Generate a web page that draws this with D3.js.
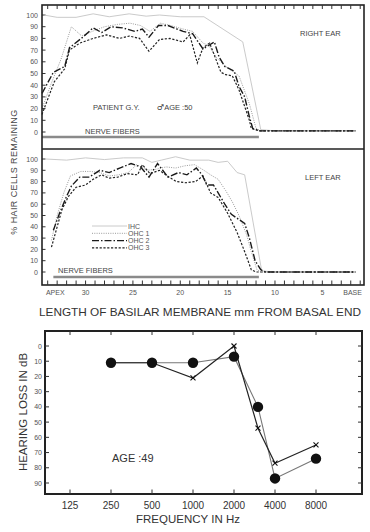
<!DOCTYPE html>
<html>
<head>
<meta charset="UTF-8">
<title>Hair cells remaining and audiogram</title>
<style>
    body { margin: 0; padding: 0; background: #fff; }
    svg { display: block; font-family: "Liberation Sans", Arial, sans-serif; }
    .frame { fill: none; stroke: #222; stroke-width: 1.6px; }
    .tick { stroke: #333; stroke-width: 1px; }
    .small { font-size: 7px; fill: #555; }
    .note { font-size: 7.5px; fill: #444; }
    .title { font-size: 11.8px; fill: #333; }
</style>
</head>
<body>
<svg></svg>
<script src="https://d3js.org/d3.v7.min.js"></script>
<script>

let w = 370, h = 532;

// hair cell counts: [mm from basal end, % remaining]
let ihcRight  = [[34.4,100],[33,98],[31,98],[29.2,101],[27.5,98.5],[25.4,101],[23.6,99],[22.2,100],[20,98.5],[17.5,98.5],[13.4,77],[11.5,2],[10,1],[7,1],[4,1],[1.5,1]];
let ohc1Right = [[34.5,22],[33.6,42],[32.6,62],[31.5,90],[30.4,82],[29.3,86],[28,90],[26.6,92],[25.3,93],[24.2,91],[23.2,86],[22.1,93],[21,91],[19.7,88],[18.7,86],[17.6,76],[17,74],[16.2,64],[15.2,56],[13.8,48],[12.7,24],[12,3],[11.5,1],[9,1],[6,1],[3,1],[1.5,1]];
let ohc2Right = [[34.6,33],[33.4,51],[32.2,56],[31.7,72],[30.3,81],[29.2,89],[28.3,85],[27.3,90],[26.1,89],[24.8,86],[24,88],[23.3,81],[22.3,91],[21.3,91],[19.7,86],[18.7,84],[17.6,71],[16.4,77],[15.9,64],[15.3,56],[14.3,52],[13.8,39],[13.2,30],[12.7,13],[12.35,3],[11.6,1],[8,1],[5,1],[1.5,1]];
let ohc3Right = [[34.6,15],[34,28],[33.3,43],[32.2,54],[31.7,70],[30.6,76],[29.2,80],[27.8,83],[26.4,80],[25.4,82],[24.3,80],[23.3,69],[22.2,79],[21.1,80],[19.7,77],[19,83],[18.2,59],[17.6,72],[16.9,76],[15.7,51],[15.2,49],[14.5,48],[13.8,36],[12.7,10],[12.5,3],[11.6,1],[7,1],[3,1],[1.5,1]];

let ihcLeft  = [[34.2,100],[32,99],[30,101],[28,99.5],[26,101],[24,101],[23,97],[22,99],[20.5,102],[19,99],[17,99],[16,97],[15,98],[14,88],[13.2,86],[11.4,1],[10,0],[6,0],[1.5,0]];
let ohc1Left = [[33.6,28],[33,50],[32.3,70],[31.6,85],[30.5,89],[29.5,89],[28.5,88],[27.5,85],[26.5,86],[25.5,88],[24.6,95],[23.5,90],[22.5,91],[21.5,93],[20.5,92],[19.5,94],[18.5,95],[17.5,90],[16.8,86],[16,82],[15.2,72],[14.5,62],[13.8,50],[13,33],[12.5,18],[11.9,2],[11.5,0],[8,0],[4,0],[1.5,0]];
let ohc2Left = [[33.4,37],[32.7,53],[32,67],[31.5,76],[30.6,84],[29.6,84],[28.5,90],[27.5,88],[26.4,92],[25.2,96],[24.2,93],[23.3,84],[22.4,96],[21.3,84],[20.2,88],[19.3,86],[18.3,92],[17.7,86],[17.2,77],[16.5,77],[16,70],[15.3,60],[14.6,51],[13.2,43],[12.7,30],[12.1,10],[11.5,2],[11,0],[7,0],[3,0],[1.5,0]];
let ohc3Left = [[33.6,22],[33,40],[32.5,55],[31.8,67],[31,75],[30,77],[29.2,82],[28.3,86],[27.5,83],[26.6,84],[25.6,87],[24.5,86],[24,95],[23.2,87],[22.2,90],[21.2,84],[20.4,80],[19.4,79],[18.4,80],[17.6,85],[16.8,70],[16,66],[15,52],[14,35],[13.2,18],[12.5,2],[12,0],[9,0],[5,0],[1.5,0]];

let nerveRight = [[34.6,-4.3],[11.7,-4.3]];
let nerveLeft  = [[33.4,-4.4],[11.7,-4.4]];

let mmTicks = [33.2, 30, 25, 20, 15, 10, 5, 1.8];
let mmTickLabels = ["APEX", "30", "25", "20", "15", "10", "5", "BASE"];
let pctTicks = [0, 10, 20, 30, 40, 50, 60, 70, 80, 90, 100];

let cellTypes = ["IHC", "OHC 1", "OHC 2", "OHC 3"];

// audiogram
let freqs = [125, 250, 500, 1000, 2000, 4000, 8000];
let dbTicks = [0, 10, 20, 30, 40, 50, 60, 70, 80, 90];
let lossDots  = [[250,11],[500,11],[1000,11],[2000,7],[3000,40],[4000,87],[8000,74]];
let lossCross = [[250,11],[500,11],[1000,21],[2000,0],[3000,54],[4000,77],[8000,65]];

// line styles per cell type
let styles = {
    "IHC":   { stroke: "#c4c4c4", width: 0.9, dash: null },
    "OHC 1": { stroke: "#9a9a9a", width: 1.0, dash: "1,1.3" },
    "OHC 2": { stroke: "#1a1a1a", width: 1.4, dash: "7,2,1.5,2" },
    "OHC 3": { stroke: "#222",    width: 1.2, dash: "2.2,1.6" }
};

let svg = d3.select("svg")
    .attr("width", w).attr("height", h)
    .attr("viewBox", `0 0 ${w} ${h}`);

let x = d3.scaleLinear().domain([34.6, 0.6]).range([42, 364]);

function drawPanel(y, series, nerve, nerveLabelX) {
    let g = svg.append("g");
    let line = d3.line().x(d => x(d[0])).y(d => y(d[1]));

    // y ticks and labels
    g.selectAll("line.yt").data(pctTicks).enter().append("line")
        .attr("class", "tick")
        .attr("x1", 42).attr("x2", 45.5)
        .attr("y1", d => y(d)).attr("y2", d => y(d));
    g.selectAll("text.yl").data(pctTicks).enter().append("text")
        .attr("class", "small")
        .attr("x", 38).attr("y", d => y(d) + 2.5)
        .attr("text-anchor", "end")
        .text(d => d);

    // nerve fibers
    g.append("path").datum(nerve)
        .attr("d", line)
        .attr("stroke", "#8a8a8a").attr("stroke-width", 2.4).attr("fill", "none");
    g.append("text").attr("class", "note")
        .attr("x", nerveLabelX).attr("y", y(nerve[0][1]) - 3.5)
        .text("NERVE FIBERS");

    // cell curves
    series.forEach((s, i) => {
        let st = styles[cellTypes[i]];
        g.append("path").datum(s)
            .attr("d", line)
            .attr("fill", "none")
            .attr("stroke", st.stroke)
            .attr("stroke-width", st.width)
            .attr("stroke-dasharray", st.dash);
    });
    return g;
}

let yRight = d3.scaleLinear().domain([0, 100]).range([132, 15]);
let yLeft  = d3.scaleLinear().domain([0, 100]).range([272, 159]);

drawPanel(yRight, [ihcRight, ohc1Right, ohc2Right, ohc3Right], nerveRight, 85);
drawPanel(yLeft, [ihcLeft, ohc1Left, ohc2Left, ohc3Left], nerveLeft, 58);

// frames
svg.append("rect").attr("class", "frame")
    .attr("x", 42).attr("y", 5).attr("width", 322).attr("height", 280);
svg.append("line").attr("class", "frame")
    .attr("x1", 42).attr("x2", 364).attr("y1", 149).attr("y2", 149);

// mm ticks along top and bottom edges
let mmMinor = d3.range(1, 35);
svg.selectAll("line.topt").data(mmMinor).enter().append("line")
    .attr("class", "tick")
    .attr("x1", d => x(d)).attr("x2", d => x(d))
    .attr("y1", 5).attr("y2", 9);
svg.selectAll("line.bott").data(mmMinor).enter().append("line")
    .attr("class", "tick")
    .attr("x1", d => x(d)).attr("x2", d => x(d))
    .attr("y1", 285).attr("y2", 280.5);
svg.selectAll("text.xl").data(mmTicks).enter().append("text")
    .attr("class", "small")
    .attr("x", d => x(d)).attr("y", 295)
    .attr("text-anchor", "middle")
    .text((d, i) => mmTickLabels[i]);

// panel labels
svg.append("text").attr("class", "note").attr("x", 300).attr("y", 36).text("RIGHT EAR");
svg.append("text").attr("class", "note").attr("x", 305).attr("y", 180).text("LEFT EAR");
svg.append("text").attr("class", "note").attr("x", 93).attr("y", 110).text("PATIENT G.Y.");
let age = svg.append("text").attr("class", "note").attr("x", 157).attr("y", 110);
age.append("tspan").style("font-family", "'DejaVu Sans'").style("font-size", "8px").text("♂");
age.append("tspan").text("AGE :50");

// legend
let legend = svg.append("g").attr("transform", "translate(92,226)");
cellTypes.forEach((c, i) => {
    let st = styles[c];
    legend.append("line")
        .attr("x1", 0).attr("x2", 35)
        .attr("y1", i * 7.3).attr("y2", i * 7.3)
        .attr("stroke", st.stroke).attr("stroke-width", st.width)
        .attr("stroke-dasharray", st.dash);
    legend.append("text").attr("class", "small")
        .attr("x", 36).attr("y", i * 7.3 + 2.5)
        .text(c);
});

// axis titles
svg.append("text")
    .attr("transform", "translate(17,172) rotate(-90)")
    .attr("text-anchor", "middle")
    .style("font-size", "9px").style("fill", "#444").style("letter-spacing", "0.4px")
    .text("% HAIR CELLS REMAINING");
svg.append("text").attr("class", "title")
    .attr("x", 200).attr("y", 316)
    .attr("text-anchor", "middle")
    .text("LENGTH OF BASILAR MEMBRANE  mm FROM BASAL END");

// ---- audiogram ----
let fx = d3.scaleLog().base(2).domain([125, 8000]).range([70, 316]);
let dy = d3.scaleLinear().domain([0, 90]).range([346, 483]);

let ag = svg.append("g");
ag.append("rect").attr("class", "frame")
    .attr("x", 45).attr("y", 331).attr("width", 317).attr("height", 163)
    .style("stroke-width", "2px");

ag.selectAll("line.lt").data(dbTicks).enter().append("line")
    .attr("class", "tick")
    .attr("x1", 45).attr("x2", 49)
    .attr("y1", d => dy(d)).attr("y2", d => dy(d));
ag.selectAll("line.rt").data(dbTicks).enter().append("line")
    .attr("class", "tick")
    .attr("x1", 362).attr("x2", 358)
    .attr("y1", d => dy(d)).attr("y2", d => dy(d));
ag.selectAll("text.dl").data(dbTicks).enter().append("text")
    .attr("class", "small")
    .attr("x", 42).attr("y", d => dy(d) + 2.5)
    .attr("text-anchor", "end")
    .text(d => d);

ag.selectAll("line.ft").data(freqs).enter().append("line")
    .attr("class", "tick")
    .attr("x1", d => fx(d)).attr("x2", d => fx(d))
    .attr("y1", 331).attr("y2", 335);
ag.selectAll("line.fb").data(freqs).enter().append("line")
    .attr("class", "tick")
    .attr("x1", d => fx(d)).attr("x2", d => fx(d))
    .attr("y1", 494).attr("y2", 489.5);
ag.selectAll("text.fl").data(freqs).enter().append("text")
    .attr("x", d => fx(d)).attr("y", 509)
    .attr("text-anchor", "middle")
    .style("font-size", "10px").style("fill", "#333")
    .text(d => d);

let aline = d3.line().x(d => fx(d[0])).y(d => dy(d[1]));

ag.append("path").datum(lossDots)
    .attr("d", aline)
    .attr("fill", "none").attr("stroke", "#777").attr("stroke-width", 1.1);
ag.append("path").datum(lossCross)
    .attr("d", aline)
    .attr("fill", "none").attr("stroke", "#222").attr("stroke-width", 1.2);

ag.selectAll("circle").data(lossDots).enter().append("circle")
    .attr("cx", d => fx(d[0])).attr("cy", d => dy(d[1]))
    .attr("r", 5.2).attr("fill", "#111");
ag.selectAll("path.cross").data(lossCross.slice(1)).enter().append("path")
    .attr("class", "cross")
    .attr("transform", d => `translate(${fx(d[0])},${dy(d[1])})`)
    .attr("d", "M-2.5,-2.5L2.5,2.5M-2.5,2.5L2.5,-2.5")
    .attr("stroke", "#111").attr("stroke-width", 1.1);

ag.append("text")
    .attr("x", 112).attr("y", 462)
    .style("font-size", "11px").style("fill", "#333")
    .text("AGE :49");

ag.append("text").attr("class", "title")
    .attr("transform", "translate(27,412) rotate(-90)")
    .attr("text-anchor", "middle")
    .style("font-size", "11.5px")
    .text("HEARING LOSS IN dB");
ag.append("text").attr("class", "title")
    .attr("x", 188).attr("y", 523)
    .attr("text-anchor", "middle")
    .style("font-size", "11.5px")
    .text("FREQUENCY IN Hz");

</script>
</body>
</html>
